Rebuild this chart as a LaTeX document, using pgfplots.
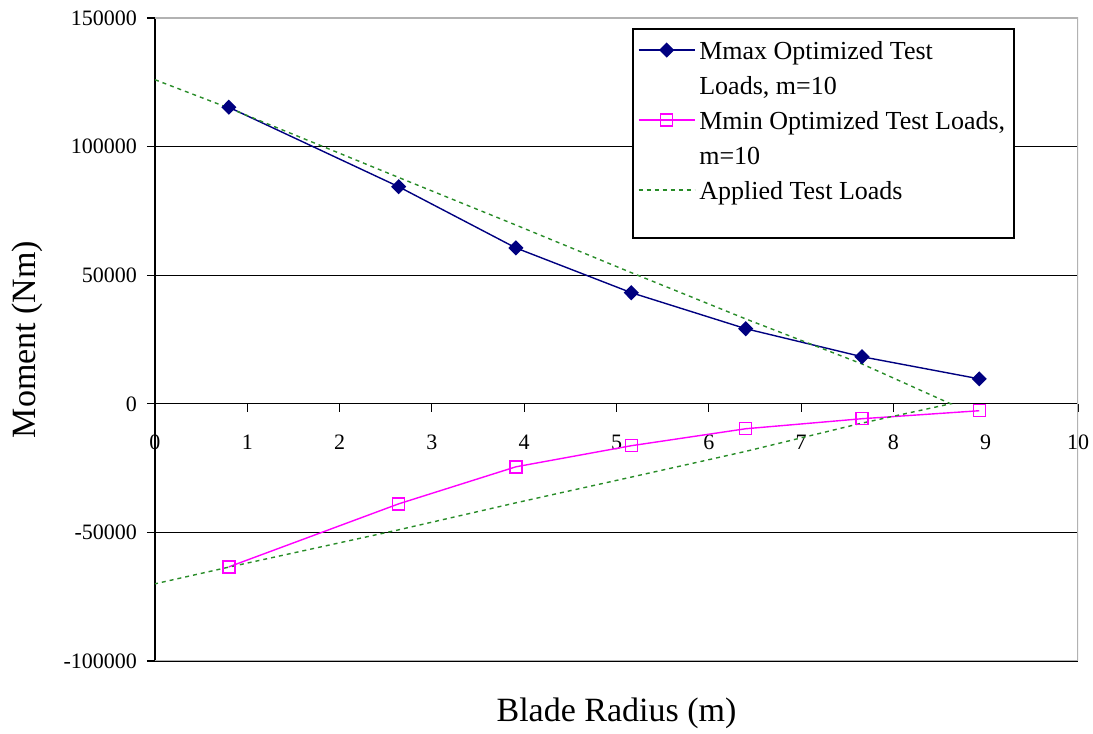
\documentclass[border=0pt]{standalone}
\usepackage{fontspec}
\setmainfont{Liberation Serif}
\usepackage{pgfplots}
\pgfplotsset{compat=1.18}
\definecolor{mmaxblue}{RGB}{0,0,128}
\definecolor{mminpink}{RGB}{255,0,255}
\definecolor{loadgreen}{RGB}{40,140,40}

\begin{document}
\begin{tikzpicture}
\begin{axis}[
    scale only axis,
    width=461.5pt, height=321.5pt,
    xmin=0, xmax=10, ymin=-100000, ymax=150000,
    axis x line=middle, axis y line=left,
    axis line style={-, black, line width=0.6pt},
    hide obscured x ticks=false,
    xtick={0,1,...,10},
    ytick={-100000,-50000,0,50000,100000,150000},
    tick align=outside,
    major tick length=4pt,
    tick style={black, line width=0.6pt},
    scaled y ticks=false,
    /pgf/number format/assume math mode=true,
    yticklabel style={/pgf/number format/fixed, /pgf/number format/1000 sep={}, xshift=-1.5pt},
    tick label style={font=\fontsize{11}{13}\selectfont},
    xticklabel style={yshift=-8pt},
    ymajorgrids, grid style={black, line width=0.6pt},
    xlabel={Blade Radius (m)}, ylabel={Moment (Nm)},
    every axis x label/.style={at={(axis description cs:0.5,-0.0809)}, anchor=center, font=\fontsize{17}{20}\selectfont},
    every axis y label/.style={at={(axis description cs:-0.1387,0.5)}, anchor=center, rotate=90, font=\fontsize{17}{20}\selectfont},
    legend cell align=left,
    legend image code/.code={\draw[mark repeat=2,mark phase=2,#1] plot coordinates {(0pt,1.5pt)(14pt,1.5pt)(28pt,1.5pt)};},
    legend style={at={(axis description cs:0.517,0.984)}, anchor=north west,
        draw=black, line width=0.75pt, fill=white,
        font=\fontsize{13}{15}\selectfont,
        inner xsep=2.5pt, inner ysep=4pt, row sep=1.5pt,
        nodes={inner sep=2pt, text height=9pt, text depth=3pt}},
]

\coordinate (axsw) at (rel axis cs:0,0);
\coordinate (axne) at (rel axis cs:1,1);

% Mmax optimized test loads
\addplot[mmaxblue, line width=0.7pt, mark=diamond*, mark size=3.3pt, mark options={solid, xscale=1.33}] coordinates {
    (0.80,115300) (2.64,84400) (3.91,60600) (5.16,43200) (6.40,29200) (7.66,18300) (8.93,9700)
};
\addlegendentry{Mmax Optimized Test}
\addlegendimage{empty legend}
\addlegendentry{Loads, m=10}

% Mmin optimized test loads
\addplot[mminpink, line width=0.7pt, mark=square, mark size=3pt, mark options={solid}] coordinates {
    (0.80,-63400) (2.64,-38900) (3.91,-24500) (5.16,-16300) (6.40,-9700) (7.66,-5800) (8.93,-2700)
};
\addlegendentry{Mmin Optimized Test Loads,}
\addlegendimage{empty legend}
\addlegendentry{m=10}

% applied test loads (upper branch out, lower branch back)
\addplot[loadgreen, line width=0.7pt, dash pattern=on 2pt off 2pt] coordinates {
    (0,126000) (0.80,115000) (2.64,88000) (3.91,69500) (5.16,51000) (6.40,33000) (7.66,15500) (8.62,0)
    (7.66,-7500) (6.40,-18500) (5.16,-28500) (3.91,-38500) (2.64,-49000) (0.80,-63500) (0,-70000)
};
\addlegendentry{Applied Test Loads}
\addlegendimage{empty legend}
\addlegendentry[text height=5pt, text depth=0pt]{}

\draw[gray!60, line width=0.8pt] (rel axis cs:0,1) -- (rel axis cs:1,1) -- (rel axis cs:1,0) -- (rel axis cs:0,0);
\end{axis}
\pgfresetboundingbox
\path ([shift={(-77.5pt,-36.5pt)}]axsw) rectangle ([shift={(7.5pt,9pt)}]axne);
\end{tikzpicture}
\end{document}
